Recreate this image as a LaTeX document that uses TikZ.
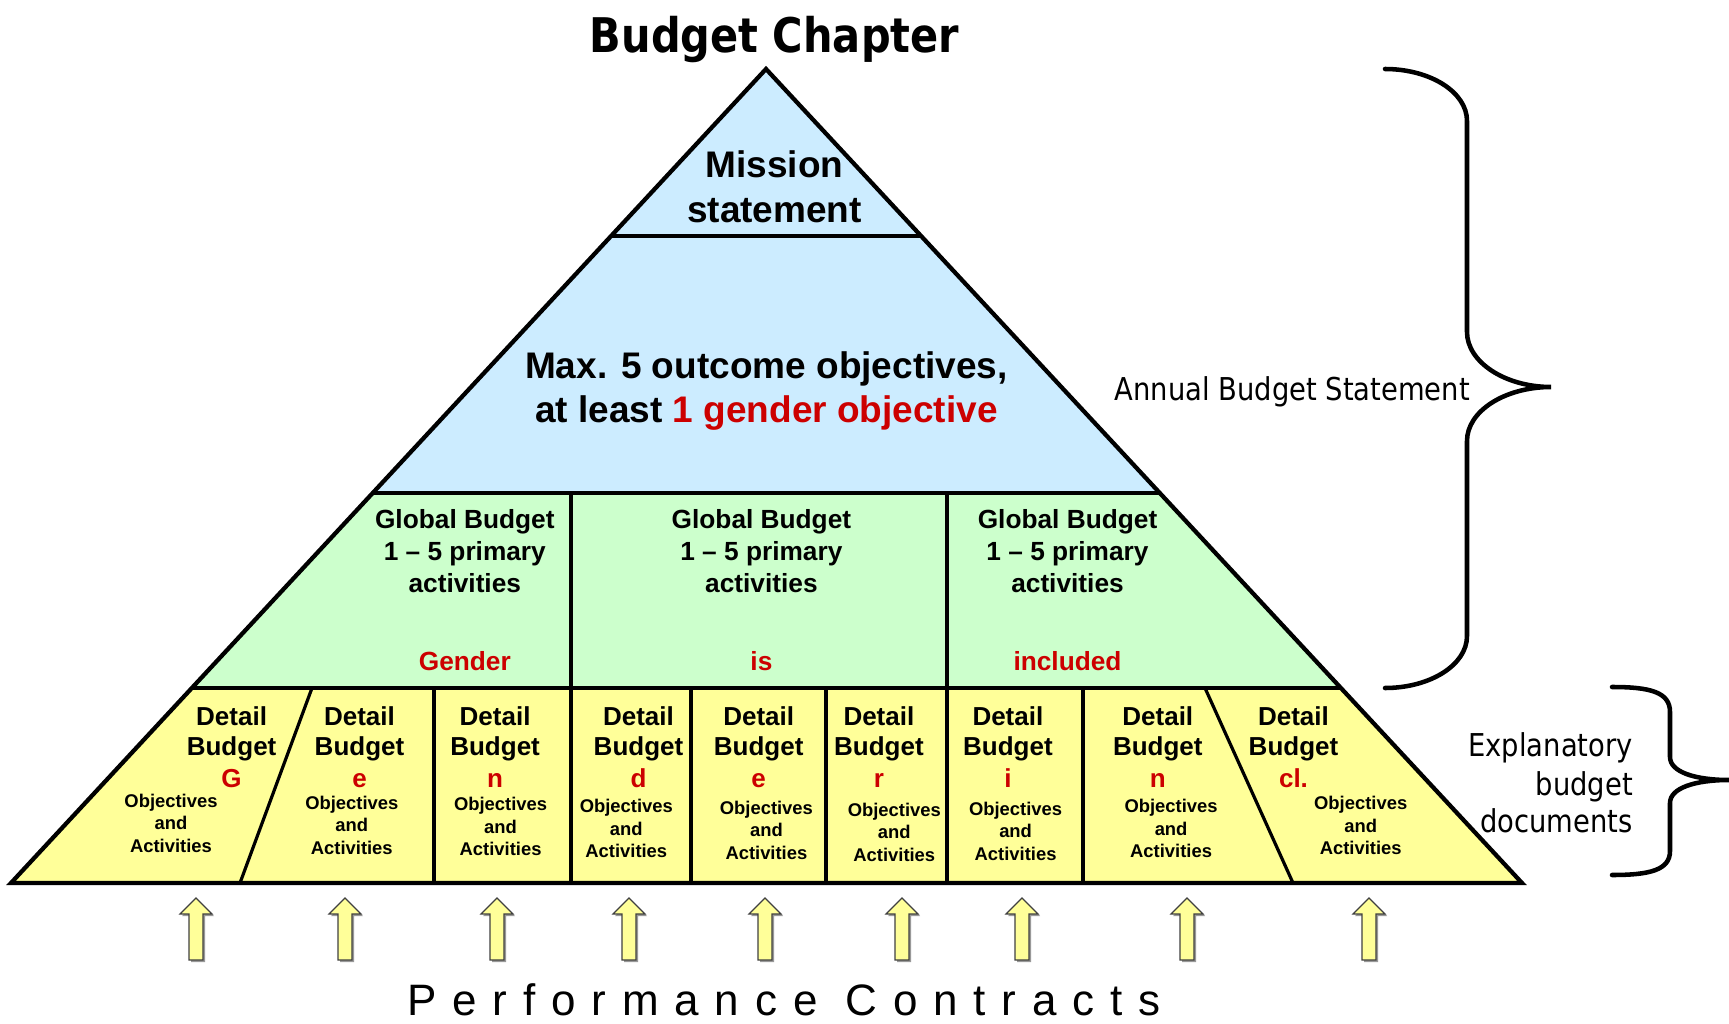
\documentclass[tikz,border=0pt]{standalone}
\usepackage{fontspec}
\setmainfont{Liberation Sans}
\newfontfamily\tahomalike[FakeStretch=0.87]{DejaVu Sans}
\newfontfamily\spacedfont[LetterSpace=36]{Liberation Sans}
\usetikzlibrary{calc}

\definecolor{missionblue}{RGB}{204,236,255}
\definecolor{globalgreen}{RGB}{204,255,204}
\definecolor{detailyellow}{RGB}{255,255,153}
\definecolor{gred}{RGB}{204,0,0}

\tikzset{
  outline/.style={line width=3.2pt, line join=miter},
  divider/.style={line width=2.8pt},
  slant/.style={line width=2.4pt},
  brace/.style={line width=3.4pt, line cap=round},
  pcarrow/.style={fill=detailyellow, draw=black!75, line width=0.9pt, line join=miter},
  pcshadow/.style={fill=black!40, draw=none},
  titletext/.style={inner sep=0pt, anchor=base, font=\tahomalike\bfseries\fontsize{35.8}{43}\selectfont},
  sidetext/.style={inner sep=0pt, anchor=base east, font=\tahomalike\fontsize{23.6}{28}\selectfont},
  bigtext/.style={inner sep=0pt, anchor=base, font=\bfseries\fontsize{27.75}{33.5}\selectfont},
  globaltext/.style={inner sep=0pt, anchor=base, font=\bfseries\fontsize{19.7}{24}\selectfont},
  detailtext/.style={inner sep=0pt, anchor=base, font=\bfseries\fontsize{19.5}{24}\selectfont},
  objtext/.style={inner sep=0pt, align=center, font=\bfseries\fontsize{13.8}{16.9}\selectfont},
  pctext/.style={inner sep=0pt, anchor=base west, font=\spacedfont\fontsize{33}{40}\selectfont}
}

\begin{document}
\begin{tikzpicture}[x=0.75pt,y=0.75pt,yscale=-1,xscale=1]
\useasboundingbox (0,0) rectangle (1729,1024);

%Pyramid corners and row levels
\coordinate (apex) at (766,69);
\coordinate (bl) at (11,883);
\coordinate (br) at (1522,883);
\coordinate (ml) at ($(apex)!0.2052!(bl)$);
\coordinate (mr) at ($(apex)!0.2052!(br)$);
\coordinate (gl) at ($(apex)!0.5209!(bl)$);
\coordinate (gr) at ($(apex)!0.5209!(br)$);
\coordinate (dl) at ($(apex)!0.7604!(bl)$);
\coordinate (dr) at ($(apex)!0.7604!(br)$);

%Shape: fills of the three levels
\fill[missionblue] (apex) -- (gl) -- (gr) -- cycle;
\fill[globalgreen] (gl) -- (dl) -- (dr) -- (gr) -- cycle;
\fill[detailyellow] (dl) -- (bl) -- (br) -- (dr) -- cycle;

%Straight Lines: level borders and dividers
\draw[divider] (ml) -- (mr);
\draw[divider] (gl) -- (gr);
\draw[divider] (dl) -- (dr);
\draw[divider] (571,493) -- (571,883);
\draw[divider] (947,493) -- (947,883);
\foreach \vx in {434,691,826,1083}
  \draw[divider] (\vx,688) -- (\vx,883);
\draw[slant] (312,688) -- (240,883);
\draw[slant] (1205,688) -- (1293,883);
\draw[outline] (apex) -- (bl) -- (br) -- cycle;

%Braces
\draw[brace] (1385,69) .. controls (1430,69) and (1467,92) .. (1467,121) -- (1467,332)
  .. controls (1467,362) and (1505,387) .. (1551,387)
  .. controls (1505,387) and (1467,411) .. (1467,441) -- (1467,636)
  .. controls (1467,665) and (1430,688) .. (1385,688);
\draw[brace] (1612,687) .. controls (1650,687) and (1670,692) .. (1670,712) -- (1670,757)
  .. controls (1670,772) and (1695,780) .. (1729,780)
  .. controls (1695,780) and (1670,788) .. (1670,803) -- (1670,851)
  .. controls (1670,870) and (1650,875) .. (1612,875);

%Block arrows
\foreach \ax in {196,345,497,629,765,902,1022,1187,1369} {
  \fill[pcshadow, shift={(2,2)}] (\ax,898) -- (\ax+16,914) -- (\ax+7,914) -- (\ax+7,960) -- (\ax-7,960) -- (\ax-7,914) -- (\ax-16,914) -- cycle;
  \draw[pcarrow] (\ax,898) -- (\ax+16,914) -- (\ax+7,914) -- (\ax+7,960) -- (\ax-7,960) -- (\ax-7,914) -- (\ax-16,914) -- cycle;
}

% Text Node
\node[titletext] (title) at (774.5,53) {Budget Chapter};
\node[bigtext] (mission) at (774.5,177) {Mission};
\node[bigtext] (statement) at (774.5,222) {statement};
\node[bigtext] (outcome) at (766.4,378) {Max. 5 outcome objectives,};
\node[bigtext] (gender) at (766.4,422) {at least \textcolor{gred}{1 gender objective}};

% Text Node: global budgets
\foreach \gx/\word [count=\c] in {464.8/Gender, 761.4/is, 1067.5/included} {
  \node[globaltext] (global\c) at (\gx,528) {Global Budget};
  \node[globaltext] (primary\c) at (\gx,560) {1 -- 5 primary};
  \node[globaltext] (activities\c) at (\gx,592) {activities};
  \node[globaltext, text=gred] (word\c) at (\gx,670) {\word};
}

% Text Node: detail budgets
\foreach \bx/\ox/\oy/\ltr [count=\c] in {231.6/171/823/G, 359.5/351.8/825/e, 495.1/500.6/826.5/n,
    638.5/626.3/828.5/d, 758.7/766.4/830/e, 878.9/894.3/832/r, 1007.9/1015.6/831/i,
    1157.8/1171.1/828.5/n, 1293.5/1360.7/825.5/cl.} {
  \node[detailtext] (detail\c) at (\bx,725) {Detail};
  \node[detailtext] (budget\c) at (\bx,755) {Budget};
  \node[detailtext, text=gred] (letter\c) at (\bx,787) {\ltr};
  \node[objtext] (obj\c) at (\ox,\oy) {Objectives\\and\\Activities};
}

% Text Node: side labels
\node[sidetext] (annual) at (1470,400) {Annual Budget Statement};
\node[sidetext] (expl1) at (1633,756) {Explanatory};
\node[sidetext] (expl2) at (1633,795) {budget};
\node[sidetext] (expl3) at (1633,832) {documents};
\node[pctext] (contracts) at (407,1015) {Performance Contracts};

\end{tikzpicture}
\end{document}
